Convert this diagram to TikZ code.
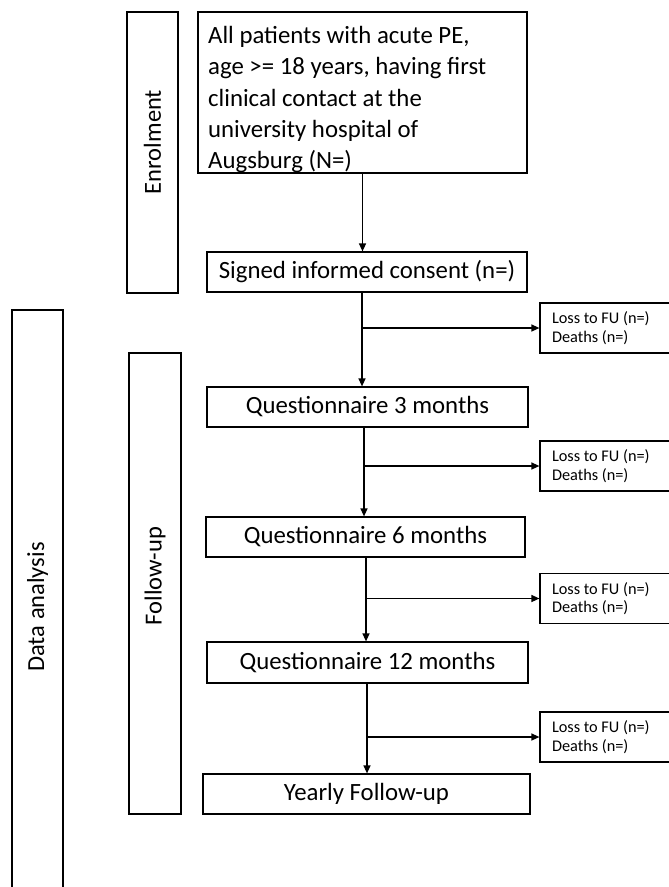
\documentclass[tikz,border=0pt]{standalone}
\usepackage{fontspec}
\setmainfont{Carlito}
\usetikzlibrary{arrows.meta,calc}
\newcommand{\nsp}{\spaceskip=0pt\xspaceskip=0pt\relax}
\begin{document}
\begin{tikzpicture}[x=1pt,y=-1pt,
  box/.style={draw, line width=1.2pt, inner sep=0pt, font=\fontsize{24.8}{31.3}\selectfont},
  lossbox/.style={draw, line width=1.2pt, inner sep=0pt, minimum width=135pt, minimum height=50pt,
    text width=111pt, align=left, font=\fontsize{16.3}{18.5}\selectfont},
  sidebox/.style={draw, line width=2.2pt, inner sep=0pt},
  sidetext/.style={rotate=90, inner sep=0pt, font=\fontsize{24.5}{30}\selectfont},
  arr/.style={line width=1.3pt, -{Triangle[length=8pt,width=7pt]}},
  ln/.style={line width=1.3pt}]
\clip (0,0) rectangle (669,887);
\fill[white] (0,0) rectangle (669,887);

% side boxes
\node[sidebox, minimum width=51pt, minimum height=281pt] (enrolbox) at (152.5,152.5) {};
\node[sidetext] (enroltext) at (152.5,142) {Enrolment};
\draw[sidebox] (12,895) |- (63,310) -- (63,895);
\node[sidetext] (datatext) at (37.5,607) {Data analysis};
\node[sidebox, minimum width=52pt, minimum height=461pt] (fubox) at (155,583.5) {};
\node[sidetext] (futext) at (155,576) {Follow-up};

% main boxes
\node[box, minimum width=329pt, minimum height=161pt] (top) at (362.5,92.5) {};
\node[font=\fontsize{24.8}{31.3}\selectfont, inner sep=0pt, text width=309pt, align=left, anchor=north west] (toptext) at (208,26)
  {\nsp All patients with acute PE,\\ age >= 18 years, having first\\ clinical contact at the\\ university hospital of\\ Augsburg (N=)};
\node[box, minimum width=320pt, minimum height=40pt] (sig) at (367,272) {Signed informed consent (n=)};
\node[box, minimum width=321pt, minimum height=40pt] (q3) at (367.5,407) {Questionnaire 3 months};
\node[box, minimum width=319pt, minimum height=40pt] (q6) at (365.5,537) {Questionnaire 6 months};
\node[box, minimum width=321pt, minimum height=41pt] (q12) at (367.5,662.5) {Questionnaire 12 months};
\node[box, minimum width=327pt, minimum height=40pt] (yearly) at (366.5,794) {Yearly Follow-up};

% loss boxes
\node[lossbox] (l1) at (607.5,328) {\nsp Loss to FU (n=)\\ Deaths (n=)};
\node[lossbox] (l2) at (607.5,466) {\nsp Loss to FU (n=)\\ Deaths (n=)};
\node[lossbox] (l3) at (607.5,598.5) {\nsp Loss to FU (n=)\\ Deaths (n=)};
\node[lossbox] (l4) at (607.5,737) {\nsp Loss to FU (n=)\\ Deaths (n=)};

% junctions
\coordinate (j1) at (362,328);
\coordinate (j2) at (364,466);
\coordinate (j3) at (366,598.5);
\coordinate (j4) at (367,737);

% connectors
\draw[arr] (top.south) -- (sig.north -| top.south);
\draw[arr] (sig.south -| j1) -- (q3.north -| j1);
\draw[arr] (j1) -- (l1.west);
\draw[arr] (q3.south -| j2) -- (q6.north -| j2);
\draw[arr] (j2) -- (l2.west);
\draw[arr] (q6.south -| j3) -- (q12.north -| j3);
\draw[arr] (j3) -- (l3.west);
\draw[arr] (q12.south -| j4) -- (yearly.north -| j4);
\draw[arr] (j4) -- (l4.west);
\end{tikzpicture}
\end{document}
